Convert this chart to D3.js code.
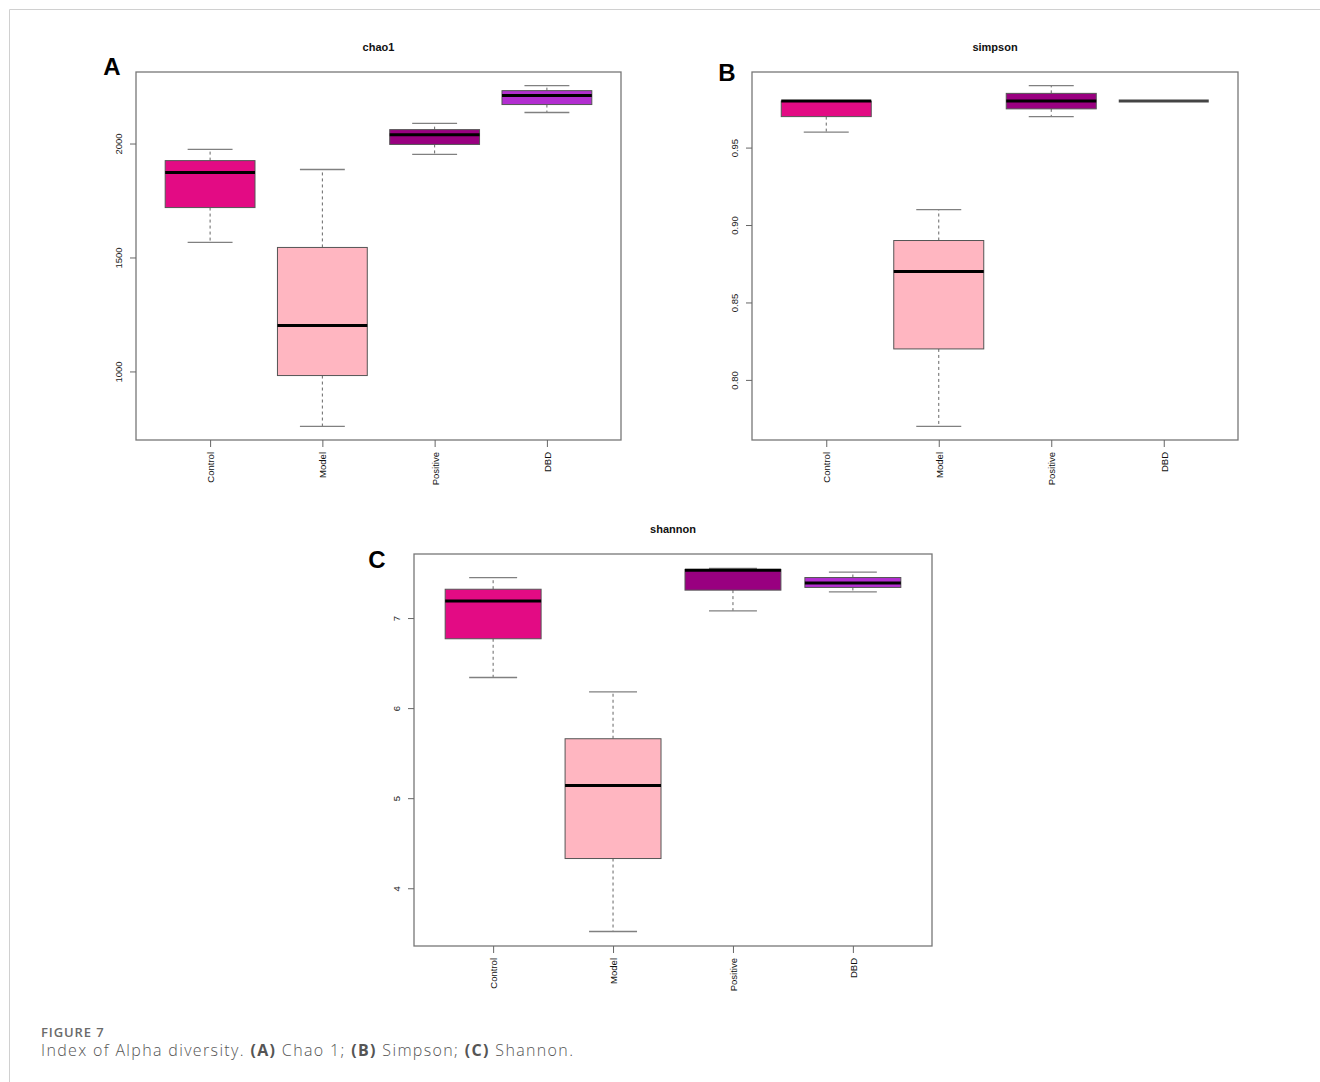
<!DOCTYPE html>
<html>
<head>
<meta charset="utf-8">
<script src="https://cdn.jsdelivr.net/npm/d3@7"></script>
<style>
  html, body { margin: 0; padding: 0; background: #fff; }
  svg { display: block; }
</style>
</head>
<body>
<svg id="chart" width="1320" height="1082"></svg>
<script>
// ---------- DATA ----------
const categories = ["Control", "Model", "Positive", "DBD"];
const groupColors = ["#E30B84", "#FFB6C1", "#990080", "#B22ED0"];

// chao1
const chaoLow    = [1566, 759, 1952, 2136];
const chaoQ1     = [1719, 982, 1996, 2171];
const chaoMedian = [1873, 1202, 2039, 2211];
const chaoQ3     = [1925, 1544, 2061, 2232];
const chaoHigh   = [1974, 1886, 2088, 2254];
const chaoTicks  = [1000, 1500, 2000];

// simpson
const simpLow    = [0.96, 0.77, 0.97, 0.98];
const simpQ1     = [0.97, 0.82, 0.975, 0.98];
const simpMedian = [0.98, 0.87, 0.98, 0.98];
const simpQ3     = [0.98, 0.89, 0.985, 0.98];
const simpHigh   = [0.98, 0.91, 0.99, 0.98];
const simpTicks  = [0.80, 0.85, 0.90, 0.95];

// shannon
const shanLow    = [6.34, 3.52, 7.08, 7.29];
const shanQ1     = [6.77, 4.33, 7.31, 7.34];
const shanMedian = [7.19, 5.14, 7.53, 7.39];
const shanQ3     = [7.32, 5.66, 7.54, 7.45];
const shanHigh   = [7.45, 6.18, 7.55, 7.51];
const shanTicks  = [4, 5, 6, 7];

// ---------- DRAW ----------
const svg = d3.select("#chart");

// page border lines
svg.append("line").attr("x1", 9.5).attr("x2", 1320).attr("y1", 9.5).attr("y2", 9.5)
  .attr("stroke", "#d0d0d0").attr("stroke-width", 1);
svg.append("line").attr("x1", 9.5).attr("x2", 9.5).attr("y1", 9.5).attr("y2", 1082)
  .attr("stroke", "#d0d0d0").attr("stroke-width", 1);

function panel(cfg) {
  const { left, right, top, bottom, title, letter, lx, ly, low, q1, med, q3, high, ticks, fmt } = cfg;
  const dmin = d3.min(low), dmax = d3.max(high);
  const ext = (dmax - dmin) * 0.04;
  const y = d3.scaleLinear().domain([dmin - ext, dmax + ext]).range([bottom, top]);
  const n = categories.length;
  const x = d3.scaleLinear().domain([0.5 - n * 0.04, n + 0.5 + n * 0.04]).range([left, right]);
  const unit = x(2) - x(1);
  const g = svg.append("g");

  const rows = categories.map((c, i) => ({ c, i, low: low[i], q1: q1[i], med: med[i], q3: q3[i], high: high[i], color: groupColors[i] }));

  // whiskers (dashed)
  rows.forEach(d => {
    const cx = x(d.i + 1);
    if (d.high > d.q3) g.append("line").attr("x1", cx).attr("x2", cx).attr("y1", y(d.q3)).attr("y2", y(d.high))
      .attr("stroke", "#666").attr("stroke-width", 1).attr("stroke-dasharray", "3,3");
    if (d.low < d.q1) g.append("line").attr("x1", cx).attr("x2", cx).attr("y1", y(d.q1)).attr("y2", y(d.low))
      .attr("stroke", "#666").attr("stroke-width", 1).attr("stroke-dasharray", "3,3");
    // staples
    const sw = unit * 0.2;
    if (d.high > d.q3) g.append("line").attr("x1", cx - sw).attr("x2", cx + sw).attr("y1", y(d.high)).attr("y2", y(d.high))
      .attr("stroke", "#808080").attr("stroke-width", 1.3);
    if (d.low < d.q1) g.append("line").attr("x1", cx - sw).attr("x2", cx + sw).attr("y1", y(d.low)).attr("y2", y(d.low))
      .attr("stroke", "#808080").attr("stroke-width", 1.3);
  });

  // boxes
  const bw = unit * 0.4;
  g.selectAll("rect.box").data(rows).join("rect")
    .attr("class", "box")
    .attr("x", d => x(d.i + 1) - bw)
    .attr("width", bw * 2)
    .attr("y", d => y(d.q3))
    .attr("height", d => y(d.q1) - y(d.q3))
    .attr("fill", d => d.color)
    .attr("stroke", "#555")
    .attr("stroke-width", 1);

  // medians
  g.selectAll("line.med").data(rows).join("line")
    .attr("class", "med")
    .attr("x1", d => x(d.i + 1) - bw)
    .attr("x2", d => x(d.i + 1) + bw)
    .attr("y1", d => y(d.med)).attr("y2", d => y(d.med))
    .attr("stroke", d => (d.q1 === d.q3 ? "#444" : "#000"))
    .attr("stroke-width", 3);

  // frame
  g.append("rect").attr("x", left).attr("y", top).attr("width", right - left).attr("height", bottom - top)
    .attr("fill", "none").attr("stroke", "#777").attr("stroke-width", 1.3);

  // y axis
  const yAxis = d3.axisLeft(y).tickValues(ticks).tickSize(6).tickPadding(4).tickFormat(fmt).tickSizeOuter(0);
  const ya = g.append("g").attr("transform", `translate(${left},0)`).call(yAxis);
  ya.select(".domain").remove();
  ya.selectAll(".tick line").attr("stroke", "#666");
  ya.selectAll(".tick text")
    .attr("x", 0).attr("dy", null)
    .attr("transform", "translate(-18,0) rotate(-90)")
    .attr("text-anchor", "middle")
    .attr("dominant-baseline", "central")
    .attr("font-family", "Liberation Sans, Arial, sans-serif")
    .attr("font-size", 9.5).attr("fill", "#222");

  // x axis
  const xAxis = d3.axisBottom(x).tickValues(d3.range(1, n + 1)).tickSize(7).tickFormat(i => categories[i - 1]).tickSizeOuter(0);
  const xa = g.append("g").attr("transform", `translate(0,${bottom})`).call(xAxis);
  xa.select(".domain").remove();
  xa.selectAll(".tick line").attr("stroke", "#666");
  xa.selectAll(".tick text")
    .attr("y", 0).attr("dy", null)
    .attr("transform", "translate(0,12) rotate(-90)")
    .attr("text-anchor", "end")
    .attr("dominant-baseline", "central")
    .attr("font-family", "Liberation Sans, Arial, sans-serif")
    .attr("font-size", 9.5).attr("fill", "#111");

  // title
  g.append("text").attr("x", (left + right) / 2).attr("y", top - 21)
    .attr("text-anchor", "middle")
    .attr("font-family", "Liberation Sans, Arial, sans-serif")
    .attr("font-weight", "bold").attr("font-size", 11).attr("fill", "#111")
    .text(title);

  // panel letter
  g.append("text").attr("x", lx).attr("y", ly)
    .attr("text-anchor", "middle").attr("dominant-baseline", "central")
    .attr("font-family", "Liberation Sans, Arial, sans-serif")
    .attr("font-weight", "bold").attr("font-size", 24).attr("fill", "#000")
    .text(letter);
}

panel({ left: 136, right: 621, top: 72, bottom: 440, title: "chao1", letter: "A", lx: 112, ly: 66,
  low: chaoLow, q1: chaoQ1, med: chaoMedian, q3: chaoQ3, high: chaoHigh, ticks: chaoTicks, fmt: d3.format("d") });
panel({ left: 752, right: 1238, top: 72, bottom: 440, title: "simpson", letter: "B", lx: 727, ly: 72,
  low: simpLow, q1: simpQ1, med: simpMedian, q3: simpQ3, high: simpHigh, ticks: simpTicks, fmt: d3.format(".2f") });
panel({ left: 414, right: 932, top: 554, bottom: 946, title: "shannon", letter: "C", lx: 377, ly: 559,
  low: shanLow, q1: shanQ1, med: shanMedian, q3: shanQ3, high: shanHigh, ticks: shanTicks, fmt: d3.format("d") });

// caption
svg.append("text").attr("x", 41).attr("y", 1037)
  .attr("font-family", "Open Sans, sans-serif").attr("font-size", 13).attr("font-weight", 600)
  .attr("letter-spacing", 0.9)
  .attr("fill", "#6b6b6b").text("FIGURE 7");

const cap = svg.append("text").attr("x", 41).attr("y", 1056)
  .attr("font-family", "Open Sans, sans-serif").attr("font-size", 16).attr("fill", "#555")
  .attr("letter-spacing", 1.35);
const parts = [["Index of Alpha diversity. ", false], ["(A)", true], [" Chao 1; ", false], ["(B)", true],
  [" Simpson; ", false], ["(C)", true], [" Shannon.", false]];
parts.forEach(([t, b]) => cap.append("tspan").attr("font-weight", b ? 700 : 300).text(t));
</script>
</body>
</html>
